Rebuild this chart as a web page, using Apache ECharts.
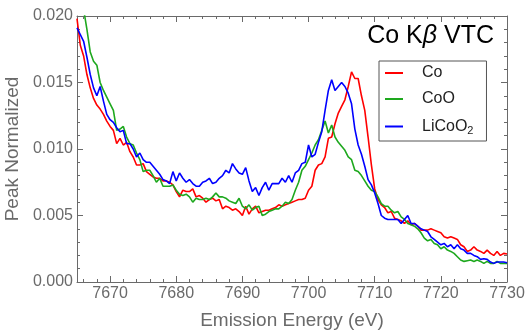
<!DOCTYPE html>
<html><head><meta charset="utf-8">
<script src="https://cdn.jsdelivr.net/npm/echarts@6/dist/echarts.min.js"></script>
<style>html,body{margin:0;padding:0;background:#fff}#c{width:525px;height:333px}</style>
</head><body><div id="c"></div>
<script>
const energy = [7665,7665.5,7666,7666.5,7667,7667.5,7668,7668.5,7669,7669.5,
7670,7670.5,7671,7671.5,7672,7672.5,7673,7673.5,7674,7674.5,
7675,7675.5,7676,7676.5,7677,7677.5,7678,7678.5,7679,7679.5,
7680,7680.5,7681,7681.5,7682,7682.5,7683,7683.5,7684,7684.5,
7685,7685.5,7686,7686.5,7687,7687.5,7688,7688.5,7689,7689.5,
7690,7690.5,7691,7691.5,7692,7692.5,7693,7693.5,7694,7694.5,
7695,7695.5,7696,7696.5,7697,7697.5,7698,7698.5,7699,7699.5,
7700,7700.5,7701,7701.5,7702,7702.5,7703,7703.5,7704,7704.5,
7705,7705.5,7706,7706.5,7707,7707.5,7708,7708.5,7709,7709.5,
7710,7710.5,7711,7711.5,7712,7712.5,7713,7713.5,7714,7714.5,
7715,7715.5,7716,7716.5,7717,7717.5,7718,7718.5,7719,7719.5,
7720,7720.5,7721,7721.5,7722,7722.5,7723,7723.5,7724,7724.5,
7725,7725.5,7726,7726.5,7727,7727.5,7728,7728.5,7729,7729.5,
7730];
const co = [0.0198,0.0178,0.0170,0.0156,0.0146,0.0138,0.0133,0.0130,0.0126,0.0121,
0.0117,0.0114,0.0104,0.0108,0.0103,0.0105,0.0098,0.0094,0.0088,0.0088,
0.0089,0.0083,0.0081,0.0079,0.0078,0.0078,0.0076,0.0076,0.0075,0.0073,
0.0068,0.0064,0.0069,0.0068,0.0068,0.0070,0.0064,0.0065,0.0063,0.0060,
0.0062,0.0063,0.0061,0.0062,0.0055,0.0057,0.0056,0.0054,0.0055,0.0053,
0.0050,0.0057,0.0051,0.0055,0.0057,0.0052,0.0053,0.0054,0.0054,0.0055,
0.0056,0.0058,0.0057,0.0058,0.0059,0.0060,0.0061,0.0062,0.0062,0.0063,
0.0069,0.0072,0.0084,0.0088,0.0089,0.0094,0.0108,0.0109,0.0119,0.0127,
0.0132,0.0137,0.0147,0.0158,0.0153,0.0153,0.0140,0.0129,0.0109,0.0088,
0.0070,0.0062,0.0058,0.0056,0.0052,0.0053,0.0048,0.0047,0.0046,0.0044,
0.0046,0.0043,0.0044,0.0042,0.0039,0.0039,0.0039,0.0040,0.0039,0.0038,
0.0037,0.0034,0.0033,0.0034,0.0033,0.0032,0.0028,0.00265,0.0023,0.0024,
0.00265,0.0024,0.0023,0.00215,0.0024,0.00215,0.0020,0.0023,0.0020,0.00215,
0.0021];
const coo = [0.0230,0.0220,0.0205,0.0190,0.0173,0.0166,0.0163,0.0150,0.0144,0.0139,
0.0134,0.0129,0.0114,0.0115,0.0117,0.0109,0.0104,0.0103,0.0097,0.0092,
0.0083,0.0084,0.0084,0.0080,0.0075,0.0078,0.0072,0.0072,0.0072,0.0073,
0.0069,0.0066,0.0065,0.0066,0.0064,0.0060,0.0063,0.0062,0.0062,0.0063,
0.0062,0.0064,0.0067,0.0064,0.0064,0.0063,0.0061,0.0060,0.0059,0.0063,
0.0057,0.0055,0.0058,0.0054,0.0056,0.0057,0.0050,0.0051,0.0053,0.0054,
0.0055,0.0055,0.0057,0.0060,0.0059,0.0062,0.0069,0.0075,0.0084,0.0087,
0.0092,0.0097,0.0103,0.0107,0.0114,0.0121,0.0112,0.0118,0.0109,0.0105,
0.0102,0.0099,0.0094,0.0092,0.0084,0.0083,0.0080,0.0076,0.0072,0.0069,
0.0068,0.0064,0.0059,0.0057,0.0057,0.0054,0.0052,0.0053,0.0049,0.0047,
0.0044,0.0043,0.0042,0.0040,0.0037,0.0033,0.0031,0.0032,0.0029,0.0028,
0.0025,0.00265,0.0024,0.0023,0.00215,0.0019,0.00165,0.00155,0.0016,0.00165,
0.00155,0.00165,0.00155,0.0014,0.00155,0.0014,0.0014,0.00155,0.0014,0.0014,
0.0014];
const licoo2 = [0.0191,0.0186,0.0181,0.0169,0.0156,0.0146,0.0140,0.0147,0.0136,0.0126,
0.0122,0.0120,0.0116,0.0113,0.0114,0.0104,0.0104,0.0100,0.0094,0.0097,
0.0092,0.0090,0.0090,0.0087,0.0084,0.0081,0.0077,0.0076,0.0074,0.0083,
0.0076,0.0082,0.0078,0.0075,0.0077,0.0074,0.0072,0.0072,0.0075,0.0076,
0.0078,0.0074,0.0075,0.0078,0.0080,0.0084,0.0082,0.0089,0.0085,0.0082,
0.0081,0.0086,0.0076,0.0068,0.0071,0.0065,0.0071,0.0075,0.0069,0.0074,
0.0074,0.0074,0.0078,0.0075,0.0080,0.0075,0.0082,0.0084,0.0089,0.0090,
0.0103,0.0094,0.0096,0.0105,0.0113,0.0129,0.0144,0.0152,0.0144,0.0147,
0.0150,0.0147,0.0142,0.0134,0.0115,0.0103,0.0096,0.0087,0.0077,0.0073,
0.0067,0.0059,0.0050,0.0048,0.0047,0.0047,0.0047,0.0047,0.0044,0.0047,
0.0050,0.0044,0.0044,0.0042,0.0040,0.0039,0.0038,0.0034,0.0032,0.0030,
0.0028,0.0029,0.00265,0.0028,0.0025,0.0028,0.0025,0.0024,0.00215,0.00215,
0.0020,0.0019,0.0017,0.00175,0.0017,0.0015,0.0014,0.0015,0.0015,0.0015,
0.00145];
const seriesNames = ['Co','CoO','LiCoO2'];
const seriesColors = ['#ff0000','#1ea81e','#0000ff'];
const xMajorTicks = [7670,7680,7690,7700,7710,7720,7730];
const xMinorTicks = [7666,7668,7672,7674,7676,7678,7682,7684,7686,7688,7692,7694,7696,7698,7702,7704,7706,7708,7712,7714,7716,7718,7722,7724,7726,7728];

const FONT = 'Liberation Sans, Arial, sans-serif';
const frameColor = '#6a6a6a';
const textColor = '#6a6a6a';
const chart = echarts.init(document.getElementById('c'), null, {renderer:'canvas'});
const pairs = arr => energy.map((e,i)=>[e, arr[i]]);
const allData = [co, coo, licoo2];

function xAx(pos, ticks, len, labels, line){
  return {type:'value', position:pos, min:7665, max:7730,
    axisLine:{show:line, onZero:false, lineStyle:{color:frameColor, width:1}},
    axisTick:{show:true, inside:true, length:len, customValues:ticks, lineStyle:{color:frameColor, width:1}},
    axisLabel:{show:labels, customValues:ticks, color:textColor, fontSize:16, fontFamily:FONT, margin:4,
      formatter: v => String(v)},
    splitLine:{show:false}};
}
function yAx(pos, labels){
  return {type:'value', position:pos, min:0, max:0.02, interval:0.005,
    axisLine:{show:true, onZero:false, lineStyle:{color:frameColor, width:1}},
    axisTick:{show:true, inside:true, length:6, lineStyle:{color:frameColor}},
    minorTick:{show:true, splitNumber:5, length:3, lineStyle:{color:frameColor}},
    axisLabel:{show:labels, color:textColor, fontSize:16, fontFamily:FONT, margin:4,
      formatter: v => v.toFixed(3)},
    splitLine:{show:false}};
}
const xa0 = xAx('bottom', xMajorTicks, 6, true, true);
xa0.name = 'Emission Energy (eV)';
xa0.nameLocation = 'middle';
xa0.nameGap = 29;
xa0.nameTextStyle = {color:textColor, fontSize:19, fontFamily:FONT};
const ya0 = yAx('left', true);
ya0.name = 'Peak Normalized';
ya0.nameLocation = 'middle';
ya0.nameGap = 51;
ya0.nameTextStyle = {color:textColor, fontSize:19, fontFamily:FONT};

chart.setOption({
  animation:false,
  backgroundColor:'#fff',
  title:{text:'Co K{b|β} VTC', right:31, top:24, padding:0,
    textStyle:{color:'#000', fontSize:25, fontWeight:'normal', fontFamily:FONT,
      rich:{b:{fontStyle:'italic', fontSize:25, fontFamily:FONT, color:'#000'}}}},
  legend:{orient:'vertical', left:379, top:61, padding:[4,13,5,6],
    borderColor:'#555', borderWidth:1, backgroundColor:'#fff',
    itemWidth:18, itemHeight:2, itemGap:10, icon:'rect',
    data:seriesNames,
    formatter: n => n === 'LiCoO2' ? 'LiCoO{s|2}' : n,
    textStyle:{color:'#222', fontSize:16, fontFamily:FONT, lineHeight:16, padding:[0,0,0,14],
      rich:{s:{fontSize:11, fontFamily:FONT, color:'#222', padding:[8,0,0,0], lineHeight:16}}}},
  grid:{left:77, right:18, top:16, bottom:51, containLabel:false, outerBoundsMode:'none'},
  xAxis:[xa0, xAx('bottom', xMinorTicks, 3, false, false),
         xAx('top', xMajorTicks, 6, false, true), xAx('top', xMinorTicks, 3, false, false)],
  yAxis:[ya0, yAx('right', false)],
  series: seriesNames.map((n,k)=>({name:n, type:'line', xAxisIndex:0, yAxisIndex:0,
    data:pairs(allData[k]), showSymbol:false, symbol:'none', clip:true,
    lineStyle:{color:seriesColors[k], width:1.6}, itemStyle:{color:seriesColors[k]}}))
});
</script></body></html>
